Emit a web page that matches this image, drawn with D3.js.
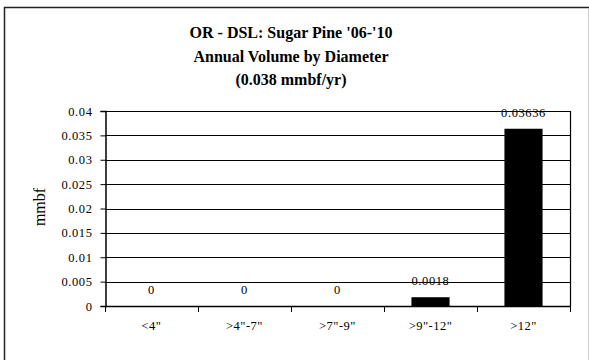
<!DOCTYPE html>
<html><head><meta charset="utf-8">
<script src="https://cdn.jsdelivr.net/npm/d3@7"></script>
<style>body{margin:0;background:#fff}svg{display:block}svg text{font-family:"Liberation Serif","Times New Roman",serif;fill:#000}</style>
</head><body><svg id="c" width="589" height="360"></svg>
<script>
const categories = ['<4"', '>4"-7"', '>7"-9"', '>9"-12"', '>12"'];
const values = [0, 0, 0, 0.0018, 0.03636];
const valueLabels = ["0", "0", "0", "0.0018", "0.03636"];
const yTicks = [0, 0.005, 0.01, 0.015, 0.02, 0.025, 0.03, 0.035, 0.04];
const yTickLabels = ["0", "0.005", "0.01", "0.015", "0.02", "0.025", "0.03", "0.035", "0.04"];
const titleLines = ["OR - DSL: Sugar Pine '06-'10", "Annual Volume by Diameter", "(0.038 mmbf/yr)"];
const yTitle = "mmbf";
const FONT = "'Liberation Serif', 'Times New Roman', serif";

const svg = d3.select("#c");
// outer frame
svg.append("rect").attr("x",4.5).attr("y",7.5).attr("width",600).attr("height",400)
  .attr("fill","none").attr("stroke","#222").attr("stroke-width",1.5);
svg.append("line").attr("x1",588.5).attr("x2",588.5).attr("y1",8).attr("y2",360).attr("stroke","#ccc");

const L=105, R=570, T=111, B=306;
const x = d3.scaleBand().domain(categories).range([L,R]).paddingInner(0.59).paddingOuter(0.295);
const xb = d3.scaleBand().domain(categories).range([L,R]);
const y = d3.scaleLinear().domain([0,0.04]).range([B,T]);

// gridlines
svg.append("g").selectAll("line").data(yTicks.slice(1)).join("line")
  .attr("x1",L).attr("x2",R).attr("y1",d=>Math.round(y(d))+0.5).attr("y2",d=>Math.round(y(d))+0.5)
  .attr("stroke","#000").attr("stroke-width",1);
// right border
svg.append("line").attr("x1",R+0.5).attr("x2",R+0.5).attr("y1",Math.round(T)).attr("y2",B).attr("stroke","#000").attr("stroke-width",1.2);

// bars
svg.append("g").selectAll("rect").data(values).join("rect")
  .attr("x",(d,i)=>x(categories[i])).attr("width",x.bandwidth())
  .attr("y",d=>y(d)).attr("height",d=>B-y(d)).attr("fill","#000");

// value labels
svg.append("g").selectAll("text").data(values).join("text")
  .attr("x",(d,i)=>x(categories[i])+x.bandwidth()/2).attr("y",d=>y(d)-12)
  .attr("text-anchor","middle")
  .style("font-family",FONT).style("font-size","12.5px").style("letter-spacing","0.6px")
  .text((d,i)=>valueLabels[i]);

// y axis
const yAxis = d3.axisLeft(y).tickValues(yTicks).tickFormat((d,i)=>yTickLabels[i]).tickSize(5).tickPadding(8);
const gy = svg.append("g").attr("transform",`translate(${L+0.5},0)`).call(yAxis);
gy.select(".domain").attr("stroke","#000").attr("stroke-width",1.5);
gy.selectAll(".tick line").attr("stroke","#000");
gy.selectAll(".tick text").style("font-family",FONT).style("font-size","12.5px").style("letter-spacing","0.6px");

// x axis
const xAxis = d3.axisBottom(xb).tickSize(0).tickPadding(15).tickFormat(d=>d);
const gx = svg.append("g").attr("transform",`translate(0,${B})`).call(xAxis);
gx.select(".domain").attr("stroke","#000").attr("stroke-width",1.5);
gx.selectAll(".tick text").style("font-family",FONT).style("font-size","12.5px").style("letter-spacing","0.5px");
// boundary ticks
const bounds = categories.map(c=>xb(c)).concat([R]);
svg.append("g").selectAll("line").data(bounds).join("line")
  .attr("x1",d=>Math.round(d)+0.5).attr("x2",d=>Math.round(d)+0.5).attr("y1",B).attr("y2",B+6)
  .attr("stroke","#000");

// y title
svg.append("text").attr("transform","translate(45,207) rotate(-90)").attr("text-anchor","middle")
  .style("font-family",FONT).style("font-size","16px").text(yTitle);

// title
svg.append("g").selectAll("text").data(titleLines).join("text")
  .attr("x",291).attr("y",(d,i)=>38+i*23.5).attr("text-anchor","middle")
  .style("font-family",FONT).style("font-size","16px").style("font-weight","bold").text(d=>d);
</script></body></html>
